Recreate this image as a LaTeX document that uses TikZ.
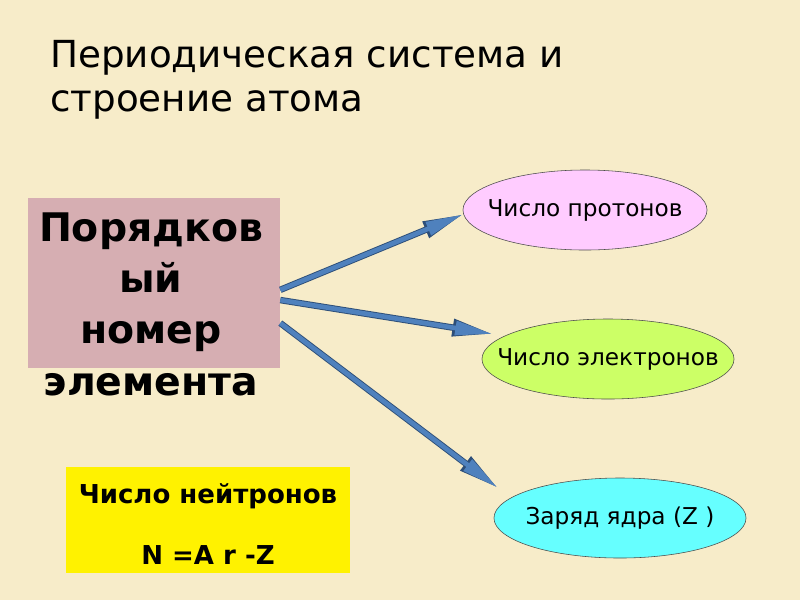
\documentclass[tikz,border=0pt]{standalone}
\usepackage{fontspec}
\setmainfont{DejaVu Sans}
\usetikzlibrary{arrows.meta,calc,positioning,shapes.geometric}
\definecolor{parchment}{RGB}{247,236,201}
\definecolor{rosebox}{RGB}{214,174,178}
\definecolor{pinkfill}{RGB}{255,204,255}
\definecolor{limefill}{RGB}{204,255,102}
\definecolor{cyanfill}{RGB}{102,255,255}
\definecolor{arrowblue}{RGB}{79,129,189}
\definecolor{arrowedge}{RGB}{45,78,120}
\tikzset{
  ovaltext/.style={font=\fontsize{16.5}{20}\selectfont, inner sep=0pt},
  oval/.style={ellipse, draw=black!70, thin, minimum width=6.2cm, minimum height=2cm, inner sep=0pt, label={[ovaltext]center:#1}},
  fatarrow/.style={draw=arrowblue, line width=3.3pt, -{Triangle[length=27pt,width=9.5pt]},
    preaction={draw=arrowedge, line width=4.6pt, -{Triangle[length=29pt,width=11.5pt]}}}
}
\begin{document}
\begin{tikzpicture}[x=0.025cm,y=-0.025cm]
\fill[parchment] (0,0) rectangle (800,600);
\useasboundingbox (0,0) rectangle (800,600);
\node[anchor=north west, align=left, inner sep=0pt, font=\fontsize{26.5}{31.5}\selectfont] (title) at (50,40) {Периодическая система и\\строение атома};
\node[fill=rosebox, minimum width=6.3cm, minimum height=4.25cm, inner sep=0pt] (num) at (154,283) {};
\node[align=center, font=\bfseries\fontsize{28}{36.5}\selectfont] (numtext) at (151,304) {Порядков\\ый\\номер\\элемента};
\node[oval={Число протонов}, fill=pinkfill, minimum width=6.1cm] (protons) at (585,210) {};
\node[oval={Число электронов}, fill=limefill, minimum width=6.3cm] (electrons) at (608,359) {};
\node[oval={Заряд ядра (Z )}, fill=cyanfill, minimum width=6.3cm] (charge) at (620,518) {};
\node[fill=yellow, minimum width=7.08cm, minimum height=2.65cm, inner sep=0pt] (neutr) at (208,520) {};
\node[align=center, font=\bfseries\fontsize{18.5}{43}\selectfont] (neutrtext) at (208,524) {Число нейтронов\\N =A r -Z};
\coordinate (eltip) at ($(electrons.center)+(-115,-25)$);
\coordinate (chtip) at ($(charge.center)+(-122,-30)$);
\draw[fatarrow] ($(num.north east)!0.54!(num.south east)$) -- (protons.182);
\draw[fatarrow] ($(num.north east)!0.60!(num.south east)$) -- (eltip);
\draw[fatarrow] ($(num.north east)!0.735!(num.south east)$) -- (chtip);
\end{tikzpicture}
\end{document}
